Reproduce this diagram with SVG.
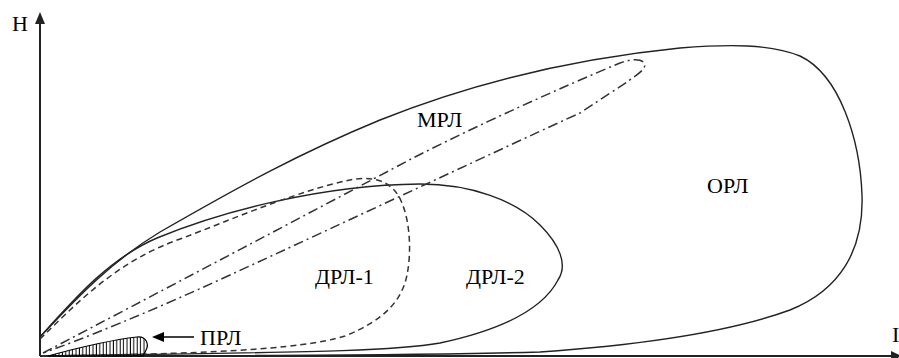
<svg xmlns="http://www.w3.org/2000/svg" width="899" height="358" viewBox="0 0 899 358">
<style>
text{font-family:"Liberation Serif",serif;font-size:22px;fill:#000}
.curve{fill:none;stroke:#222;stroke-width:1.4}
.dash{fill:none;stroke:#333;stroke-width:1.5;stroke-dasharray:6,4}
.dashdot{fill:none;stroke:#333;stroke-width:1.5;stroke-dasharray:10,4,2,4}
.axis{stroke:#222;stroke-width:2;fill:none}
</style>
<defs>
<pattern id="hatch" width="3.4" height="10" patternUnits="userSpaceOnUse">
<line x1="1.2" y1="0" x2="1.2" y2="10" stroke="#000" stroke-width="1"/>
</pattern>
</defs>
<rect width="899" height="358" fill="#fff"/>
<g id="axes">
<line class="axis" x1="40" y1="356" x2="40" y2="22"/>
<polygon points="40,12 35,24 45,24" fill="#222"/>
<line class="axis" x1="40" y1="356" x2="892" y2="356"/>
<polygon points="902,356 891,351 891,361" fill="#222"/>
<text x="12" y="31" font-family="Liberation Serif">Н</text>
<text x="892" y="342" font-family="Liberation Serif">I</text>
</g>
<g id="orl">
<path class="curve" d="M40,337 C75,300 110,262 160,232 C240,186 300,153 380,120 C460,88 560,60 680,48 C730,44 770,44 800,56 C840,75 860,140 862,195 C864,250 840,290 790,310 C730,332 640,345 540,352 C400,356 200,356 40,356"/>
<text x="707" y="193" font-family="Liberation Serif">ОРЛ</text>
</g>
<g id="drl2">
<path class="curve" d="M40,337 C75,298 110,258 157,238 C220,212 320,185 420,184 C470,184 515,200 540,225 C560,245 568,265 558,280 C545,305 510,328 440,343 C390,352 300,352 40,356"/>
<text x="466" y="284" font-family="Liberation Serif">ДРЛ-2</text>
</g>
<g id="drl1">
<path class="dash" d="M40,339 C78,302 118,260 183,238 C230,220 300,190 350,180 C372,176 388,180 398,195 C410,215 412,250 407,275 C402,300 385,320 345,336 C300,350 200,354 40,356"/>
<text x="315" y="284" font-family="Liberation Serif">ДРЛ-1</text>
</g>
<g id="mrl">
<path class="dashdot" d="M43,353 C150,297 300,218 413,158 C480,124 560,88 620,63 C635,57 648,60 644,68 C640,74 630,80 580,113 C520,140 350,220 230,275 C150,312 80,340 43,353 Z"/>
<text x="417" y="127" font-family="Liberation Serif">МРЛ</text>
</g>
<g id="prl">
<path d="M48,356 C70,350 110,340 137,337 C147,336 149,345 146,350 C145,353 143,355 143,356 Z" fill="url(#hatch)" stroke="#000" stroke-width="1.2"/>
<text x="200" y="345" font-family="Liberation Serif">ПРЛ</text>
</g>
<g id="connectors">
<line x1="194" y1="337" x2="162" y2="337" stroke="#000" stroke-width="1.5"/>
<polygon points="152,337 164,332 164,342" fill="#000"/>
</g>
</svg>
